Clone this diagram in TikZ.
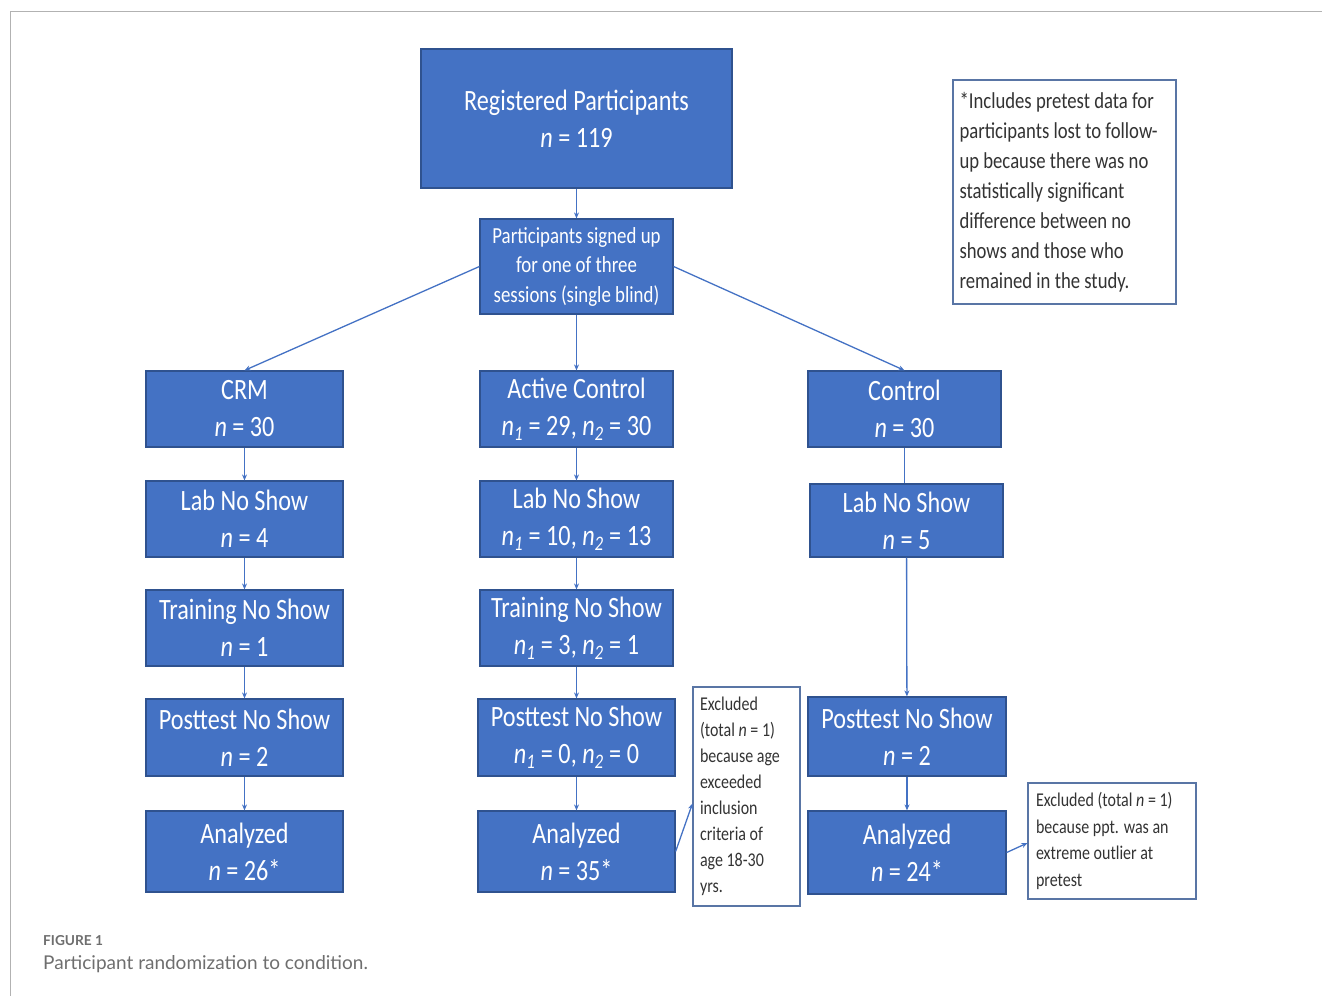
\documentclass[tikz,border=0pt]{standalone}
\usepackage{fontspec}
\setmainfont{Carlito}[FakeStretch=0.82]
\newfontfamily\capfont{Lato}
\usetikzlibrary{arrows.meta}
\definecolor{boxblue}{HTML}{4472C4}
\definecolor{bdr}{HTML}{2F528F}
\definecolor{linecol}{HTML}{4472C4}
\definecolor{capgray}{HTML}{6E6E6E}
\newcommand{\nI}{\textit{n}}
\newcommand{\nsub}[1]{\textit{n\textsubscript{#1}}}
\begin{document}
\begin{tikzpicture}[x=1pt,y=-1pt,
  box/.style={draw=bdr, line width=1.2pt, fill=boxblue, text=white, align=center, inner sep=0pt, font=\fontsize{29.5}{37}\selectfont},
  notebox/.style={draw=bdr!80, line width=1.1pt, fill=white, text=black!80, align=left, inner sep=0pt},
  conn/.style={draw=linecol, line width=1.3pt},
  arr/.style={conn, -{Stealth[length=6pt,width=5pt]}}]
\useasboundingbox (0,0) rectangle (1322,996);
\draw[gray!60, line width=1pt] (1322,11) -- (10,11) -- (10,996);
% top
\node[box, minimum width=311pt, minimum height=139pt, font=\fontsize{29.5}{37}\selectfont] (reg) at (576.5,118.5) {Registered Participants\\\nI{} = 119};
\node[box, minimum width=193pt, minimum height=95pt, font=\fontsize{23}{29.5}\selectfont] (sign) at (576.5,266.5) {Participants signed up\\for one of three\\sessions (single blind)};
% left column
\node[box, minimum width=197pt, minimum height=76pt] (crm) at (244.5,409) {CRM\\\nI{} = 30};
\node[box, minimum width=197pt, minimum height=76pt] (lab1) at (244.5,519) {Lab No Show\\\nI{} = 4};
\node[box, minimum width=197pt, minimum height=76pt] (tr1) at (244.5,628) {Training No Show\\\nI{} = 1};
\node[box, minimum width=197pt, minimum height=77pt] (post1) at (244.5,737.5) {Posttest No Show\\\nI{} = 2};
\node[box, minimum width=197pt, minimum height=81pt] (an1) at (244.5,851.5) {Analyzed\\\nI{} = 26*};
% middle column
\node[box, minimum width=193pt, minimum height=76pt] (ac) at (576.5,409) {Active Control\\\nsub{1} = 29, \nsub{2} = 30};
\node[box, minimum width=193pt, minimum height=76pt] (lab2) at (576.5,519) {Lab No Show\\\nsub{1} = 10, \nsub{2} = 13};
\node[box, minimum width=193pt, minimum height=76pt] (tr2) at (576.5,628) {Training No Show\\\nsub{1} = 3, \nsub{2} = 1};
\node[box, minimum width=197pt, minimum height=77pt] (post2) at (576.5,737.5) {Posttest No Show\\\nsub{1} = 0, \nsub{2} = 0};
\node[box, minimum width=197pt, minimum height=81pt] (an2) at (576.5,851.5) {Analyzed\\\nI{} = 35*};
% right column
\node[box, minimum width=193pt, minimum height=76pt] (ctl) at (904.5,409) {Control\\\nI{} = 30};
\node[box, minimum width=193pt, minimum height=73pt] (lab3) at (906.5,520.5) {Lab No Show\\\nI{} = 5};
\node[box, minimum width=198pt, minimum height=79pt] (post3) at (907,736.5) {Posttest No Show\\\nI{} = 2};
\node[box, minimum width=198pt, minimum height=83pt] (an3) at (907,852.5) {Analyzed\\\nI{} = 24*};
% notes
\node[notebox, minimum width=223pt, minimum height=224pt, font=\fontsize{22.8}{30}\selectfont] (note) at (1064.5,192) {\parbox[c][224pt][c]{210pt}{*Includes pretest data for\\participants lost to follow-\\up because there was no\\statistically significant\\difference between no\\shows and those who\\remained in the study.}};
\node[notebox, minimum width=107pt, minimum height=219pt, font=\fontsize{19.5}{26}\selectfont] (ex1) at (746.5,796.5) {\parbox[c][219pt][c]{93pt}{Excluded\\(total \nI{} = 1)\\because age\\exceeded\\inclusion\\criteria of\\age 18-30\\yrs.}};
\node[notebox, minimum width=168pt, minimum height=116pt, font=\fontsize{19.5}{26.5}\selectfont] (ex2) at (1112,841) {\parbox[c][116pt][c]{152pt}{Excluded (total \nI{} = 1)\\because ppt. was an\\extreme outlier at\\pretest}};
% connectors
\draw[arr] (reg) -- (sign);
\draw[arr] (sign.west) -- (crm.north);
\draw[arr] (sign.east) -- (ctl.north);
\draw[arr] (sign) -- (ac);
\draw[arr] (crm) -- (lab1);
\draw[arr] (lab1) -- (tr1);
\draw[arr] (tr1) -- (post1);
\draw[arr] (post1) -- (an1);
\draw[arr] (ac) -- (lab2);
\draw[arr] (lab2) -- (tr2);
\draw[arr] (tr2.south) -- (post2.north -| tr2.south);
\draw[arr] (post2.south -| tr2.south) -- (an2.north -| tr2.south);
\draw[conn] (ctl.south) -- (ctl.south |- lab3.north);
\draw[arr] (lab3) -- (post3);
\draw[arr] (post3) -- (an3);
\draw[arr] (an2.east) -- ([yshift=-7pt]ex1.west);
\draw[arr] (an3.east) -- ([yshift=-2pt]ex2.west);
% caption
\node[anchor=base west, inner sep=0pt, text=capgray, font=\capfont\bfseries\fontsize{13.7}{15}\selectfont] (fig) at (43,945) {FIGURE 1};
\node[anchor=base west, inner sep=0pt, text=capgray, font=\capfont\fontsize{19}{21}\selectfont] (cap) at (43,969) {Participant randomization to condition.};
\end{tikzpicture}
\end{document}
